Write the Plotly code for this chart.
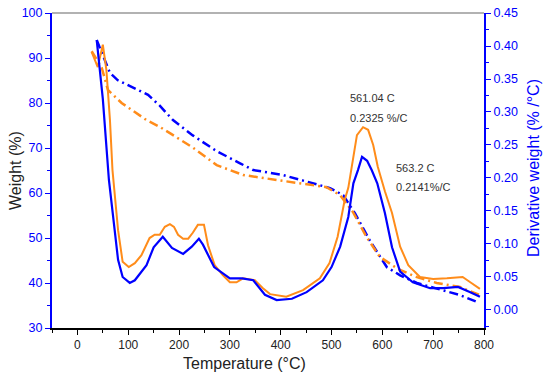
import plotly.graph_objects as go

BLUE = "#0000FF"
ORANGE = "#FF8C1A"

# Derivative weight (right axis) - blue solid
t_dblue = [38, 50, 62, 80, 89, 103, 113, 136, 150, 168, 186, 208, 225, 239, 247, 269, 300, 324, 346, 369,
           392, 422, 451, 483, 500, 517, 533, 543, 552, 560, 570, 579, 590, 605, 619, 635, 660, 694, 720,
           749, 773, 792]
d_blue = [0.409, 0.32, 0.197, 0.076, 0.05, 0.041, 0.045, 0.068, 0.095, 0.111, 0.094, 0.085, 0.096, 0.108,
          0.099, 0.065, 0.048, 0.048, 0.045, 0.023, 0.015, 0.017, 0.027, 0.045, 0.065, 0.096, 0.141, 0.192,
          0.212, 0.232, 0.226, 0.212, 0.192, 0.147, 0.095, 0.058, 0.042, 0.033, 0.033, 0.035, 0.027, 0.020]

# Derivative weight (right axis) - orange solid
t_dorange = [28, 40, 50, 57, 64, 69, 80, 89, 101, 113, 126, 142, 152, 162, 172, 182, 190, 198, 208, 218,
             227, 237, 249, 257, 270, 286, 300, 313, 326, 349, 365, 379, 411, 444, 477, 496, 512, 526, 533,
             543, 550, 562, 572, 582, 591, 605, 619, 635, 651, 674, 700, 727, 758, 773, 792]
d_orange = [0.391, 0.368, 0.402, 0.364, 0.288, 0.212, 0.121, 0.073, 0.065, 0.071, 0.083, 0.109, 0.114,
            0.114, 0.126, 0.130, 0.126, 0.114, 0.108, 0.108, 0.117, 0.129, 0.129, 0.098, 0.068, 0.053,
            0.042, 0.042, 0.048, 0.045, 0.033, 0.024, 0.020, 0.030, 0.048, 0.071, 0.111, 0.167, 0.185,
            0.232, 0.265, 0.277, 0.273, 0.250, 0.217, 0.180, 0.147, 0.096, 0.068, 0.050, 0.047, 0.048,
            0.050, 0.042, 0.032]

# Weight (left axis) - blue dash-dot
t_wblue = [38, 48, 64, 79, 109, 139, 162, 188, 227, 274, 320, 346, 404, 457, 497, 512, 523, 546, 575,
           609, 635, 668, 707, 753, 788]
w_blue = [94.0, 91.2, 86.7, 85.1, 83.4, 81.8, 79.4, 76.2, 72.8, 69.3, 66.6, 65.1, 64.0, 62.4, 61.1,
          60.2, 59.5, 55.5, 49.5, 43.5, 41.7, 40.0, 38.8, 37.3, 35.7]

# Weight (left axis) - orange dash-dot
t_worange = [28, 48, 60, 87, 136, 162, 182, 227, 274, 326, 392, 457, 490, 517, 542, 569, 595, 631, 668,
             707, 753, 792]
w_orange = [91.5, 87.8, 82.9, 80.0, 76.2, 74.7, 73.3, 70.1, 66.2, 64.0, 62.9, 61.8, 61.3, 59.5, 55.8,
            50.2, 45.8, 43.1, 41.3, 40.0, 39.1, 37.3]

DASHDOT = "9px,4px,2px,4px"

fig = go.Figure()
fig.add_trace(go.Scatter(x=t_wblue, y=w_blue, mode="lines", yaxis="y",
                         line=dict(color=BLUE, width=2.5, dash=DASHDOT), showlegend=False))
fig.add_trace(go.Scatter(x=t_worange, y=w_orange, mode="lines", yaxis="y",
                         line=dict(color=ORANGE, width=2.5, dash=DASHDOT), showlegend=False))
fig.add_trace(go.Scatter(x=t_dorange, y=d_orange, mode="lines", yaxis="y2",
                         line=dict(color=ORANGE, width=2), showlegend=False))
fig.add_trace(go.Scatter(x=t_dblue, y=d_blue, mode="lines", yaxis="y2",
                         line=dict(color=BLUE, width=2.2), showlegend=False))

L, R, T, B = 52, 66, 13, 50
PW, PH = 550 - L - R, 378 - T - B

font = "Liberation Sans, Arial, sans-serif"
fig.update_layout(
    width=550, height=378,
    margin=dict(l=L, r=R, t=T, b=B, autoexpand=False),
    paper_bgcolor="white", plot_bgcolor="white",
    font=dict(family=font, size=12, color="black"),
    xaxis=dict(range=[-50, 800], tickvals=[0, 100, 200, 300, 400, 500, 600, 700, 800], automargin=False,
               showgrid=False, zeroline=False, showline=True, linecolor="black", linewidth=1.5,
               ticks="outside", ticklen=5, tickcolor="black",
               minor=dict(dtick=50, tick0=0, ticks="outside", ticklen=3, tickcolor="black"),
               tickfont=dict(size=12, color="#222")),
    yaxis=dict(range=[30, 100], dtick=10, showgrid=False, zeroline=False, showline=True, automargin=False,
               linecolor=BLUE, linewidth=2, ticks="outside", ticklen=5, tickcolor=BLUE,
               minor=dict(dtick=5, ticks="outside", ticklen=3, tickcolor=BLUE),
               tickfont=dict(size=12.5, color=BLUE)),
    yaxis2=dict(range=[-0.0273, 0.45], overlaying="y", side="right", anchor="x", automargin=False,
                tickvals=[0, 0.05, 0.1, 0.15, 0.2, 0.25, 0.3, 0.35, 0.4, 0.45],
                tickformat=".2f", showgrid=False, zeroline=False, showline=True,
                linecolor=BLUE, linewidth=2, ticks="outside", ticklen=5, tickcolor=BLUE,
                minor=dict(dtick=0.025, tick0=0, ticks="outside", ticklen=3, tickcolor=BLUE),
                tickfont=dict(size=12.5, color=BLUE)),
    shapes=[dict(type="line", xref="paper", yref="paper", x0=0, x1=1, y0=1, y1=1,
                 line=dict(color="#999", width=1.5))],
)

def px_x(px):
    return (px - L) / PW

def px_y(py):
    return 1 - (py - T) / PH

annos = [
    dict(text="Temperature (°C)", x=px_x(244), y=px_y(363), size=16, color="#222", xa="center"),
    dict(text="Weight (%)", x=px_x(15), y=px_y(171), size=16, color="#222", xa="center", angle=-90),
    dict(text="Derivative weight (% /°C)", x=px_x(533), y=px_y(168), size=16, color=BLUE, xa="center", angle=-90),
    dict(text="561.04 C", x=px_x(348), y=px_y(98), size=11, color="#333", xa="left"),
    dict(text="0.2325 %/C", x=px_x(348), y=px_y(118), size=11, color="#333", xa="left"),
    dict(text="563.2 C", x=px_x(394), y=px_y(168), size=11, color="#333", xa="left"),
    dict(text="0.2141%/C", x=px_x(394), y=px_y(187), size=11, color="#333", xa="left"),
]
for a in annos:
    fig.add_annotation(text=a["text"], x=a["x"], y=a["y"], xref="paper", yref="paper", showarrow=False,
                       xanchor=a["xa"], yanchor="middle", textangle=a.get("angle", 0),
                       font=dict(size=a["size"], color=a["color"], family=font))

fig.write_html("out.html", config={"displayModeBar": False},
               post_script="document.body.style.margin='0';")
